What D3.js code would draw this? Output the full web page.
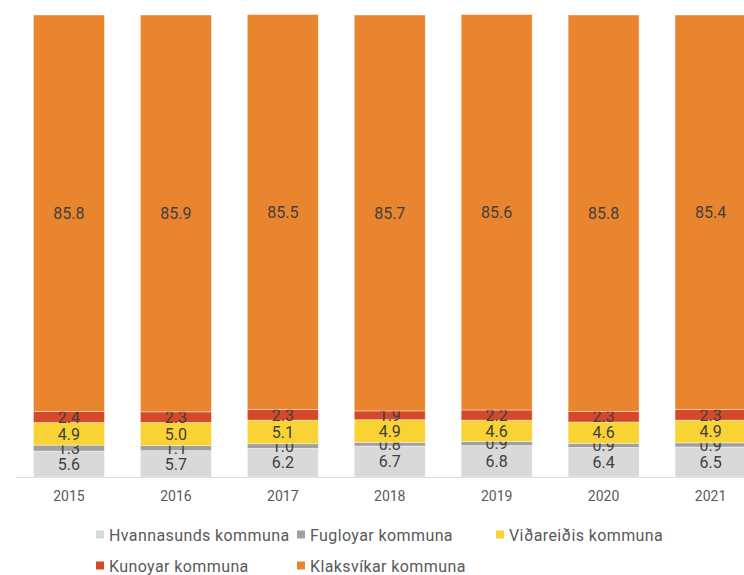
<!DOCTYPE html>
<html>
<head>
<meta charset="utf-8">
<script src="https://cdn.jsdelivr.net/npm/d3@7"></script>
<style>
body { margin: 0; background: #fff; }
text { font-family: Roboto, "Open Sans", sans-serif; }
</style>
</head>
<body>
<script>
//chart data
var years = ["2015", "2016", "2017", "2018", "2019", "2020", "2021"];
var seriesNames = ["Hvannasunds kommuna", "Fugloyar kommuna", "Viðareiðis kommuna", "Kunoyar kommuna", "Klaksvíkar kommuna"];
var hvannasund = [5.6, 5.7, 6.2, 6.7, 6.8, 6.4, 6.5];
var fugloy = [1.3, 1.1, 1.0, 0.8, 0.9, 0.9, 0.9];
var vidareidi = [4.9, 5.0, 5.1, 4.9, 4.6, 4.6, 4.9];
var kunoy = [2.4, 2.3, 2.3, 1.9, 2.2, 2.3, 2.3];
var klaksvik = [85.8, 85.9, 85.5, 85.7, 85.6, 85.8, 85.4];
var colors = ["#D9D9D9", "#A0A0A0", "#F9D333", "#D5482A", "#E9852F"];

var width = 744, height = 575;

var svg = d3.select("body").append("svg")
    .attr("width", width)
    .attr("height", height);

//build rows for the stack
var seriesValues = [hvannasund, fugloy, vidareidi, kunoy, klaksvik];
var rows = years.map(function(y, i){
    var r = {year: y};
    seriesNames.forEach(function(s, k){ r[s] = seriesValues[k][i]; });
    return r;
});
var stacked = d3.stack().keys(seriesNames)(rows);

var x = d3.scaleBand()
    .domain(years)
    .range([15.5, 764])
    .paddingInner(0.336)
    .paddingOuter(0.168);

var y = d3.scaleLinear()
    .domain([0, 100])
    .range([477, 15]);

//baseline
svg.append("line")
    .attr("x1", x.range()[0]).attr("x2", width)
    .attr("y1", y(0) + 0.5).attr("y2", y(0) + 0.5)
    .attr("stroke", "#D9D9D9")
    .attr("stroke-width", 1);

var layers = svg.selectAll(".layer")
    .data(stacked)
    .enter().append("g")
    .attr("class", "layer")
    .attr("fill", function(d, i){ return colors[i]; });

layers.selectAll("rect")
    .data(function(d){ return d; })
    .enter().append("rect")
    .attr("x", function(d){ return x(d.data.year); })
    .attr("width", x.bandwidth())
    .attr("y", function(d){ return y(d[1]); })
    .attr("height", function(d){ return y(d[0]) - y(d[1]); })
    .attr("stroke", "#fff")
    .attr("stroke-opacity", 0.5)
    .attr("stroke-width", 0.8);

//value labels centred in each segment
layers.selectAll("text")
    .data(function(d){ return d; })
    .enter().append("text")
    .attr("x", function(d){ return x(d.data.year) + x.bandwidth() / 2; })
    .attr("y", function(d){ return y((d[0] + d[1]) / 2); })
    .attr("dy", "0.36em")
    .attr("text-anchor", "middle")
    .attr("font-size", 16)
    .attr("fill", "#404040")
    .text(function(d){ return (d[1] - d[0]).toFixed(1); });

//year axis
var xAxis = svg.append("g")
    .attr("transform", "translate(0," + y(0) + ")")
    .call(d3.axisBottom(x).tickSize(0).tickPadding(14));
xAxis.select(".domain").remove();
xAxis.selectAll("text")
    .attr("font-size", 14)
    .attr("fill", "#595959")
    .style("font-family", "Roboto, sans-serif");

//legend
var legendPos = [[96, 535], [297, 535], [496, 535], [96, 566], [297, 566]];
var legend = svg.selectAll(".legend")
    .data(seriesNames)
    .enter().append("g")
    .attr("class", "legend")
    .attr("transform", function(d, i){ return "translate(" + legendPos[i][0] + "," + legendPos[i][1] + ")"; });

legend.append("rect")
    .attr("x", 0).attr("y", -4.5)
    .attr("width", 8).attr("height", 8)
    .attr("fill", function(d, i){ return colors[i]; });

legend.append("text")
    .attr("x", 13)
    .attr("dy", "0.35em")
    .attr("font-size", 16)
    .attr("letter-spacing", 0.4)
    .attr("fill", "#595959")
    .text(function(d){ return d; });
</script>
</body>
</html>
